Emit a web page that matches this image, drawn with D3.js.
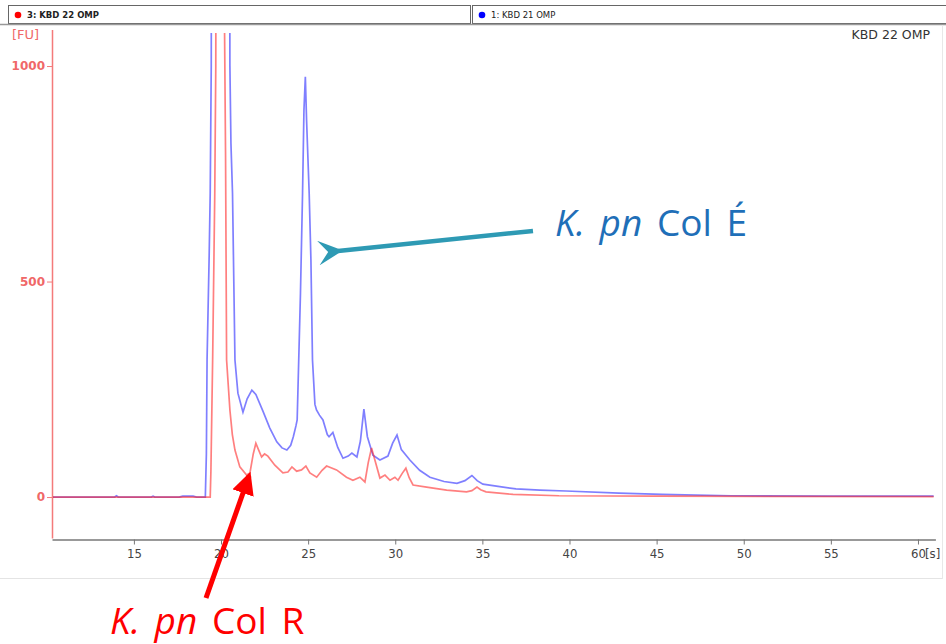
<!DOCTYPE html>
<html>
<head>
<meta charset="utf-8">
<script src="https://cdn.jsdelivr.net/npm/d3@7"></script>
<style>
  body { margin: 0; background: #fff; }
  svg { display: block; }
</style>
</head>
<body>
<svg role="trace" width="946" height="644"></svg>
<script>
(function(){

  // series, [time in s, fluorescence FU]
  var blueTrace = [
    [10.3, 0], [13.9, 0], [14.0, 3], [14.1, 0], [16.0, 0], [16.1, 2], [16.2, 0],
    [17.6, 0], [17.8, 2], [18.4, 2], [18.6, 0], [19.1, 0], [19.16, 100],
    [19.2, 320], [19.32, 560], [19.38, 705], [19.44, 1000], [19.5, 3000],
    [19.6, 6000], [20.3, 6000], [20.45, 3000], [20.51, 1000], [20.57, 820],
    [20.66, 705], [20.80, 318], [20.97, 241], [21.26, 197], [21.5, 228],
    [21.77, 248], [22.0, 238], [22.4, 200], [22.8, 160], [23.2, 128],
    [23.5, 114], [23.78, 109], [24.0, 120], [24.15, 140], [24.3, 165],
    [24.37, 179], [24.56, 473], [24.68, 705], [24.76, 898], [24.84, 975],
    [24.91, 875], [25.06, 705], [25.16, 550], [25.25, 318], [25.39, 215],
    [25.48, 202], [25.65, 190], [25.85, 179], [26.1, 145], [26.2, 140],
    [26.42, 150], [26.7, 115], [27.0, 90], [27.3, 95], [27.51, 102],
    [27.8, 93], [28.0, 130], [28.2, 204], [28.4, 140], [28.72, 97],
    [29.12, 86], [29.58, 95], [29.85, 125], [30.10, 144], [30.35, 110],
    [30.84, 86], [31.4, 62], [31.99, 46], [32.8, 36], [33.54, 32],
    [34.0, 38], [34.40, 50], [34.7, 38], [35.03, 30], [36.0, 24],
    [36.93, 19], [38.3, 16], [39.80, 14], [42.84, 9], [45.31, 6],
    [49.27, 3], [55, 2], [60.9, 2]
  ];

  var redTrace = [
    [10.3, 0], [19.38, 0], [19.42, 60], [19.52, 320], [19.64, 700],
    [19.7, 1000], [19.76, 2500], [19.85, 6000], [20.0, 6000], [20.14, 3000],
    [20.2, 1100], [20.26, 800], [20.32, 318], [20.51, 202], [20.65, 145],
    [20.80, 109], [21.08, 70], [21.47, 51], [21.66, 56], [21.85, 100],
    [22.00, 125], [22.15, 110], [22.33, 93], [22.5, 100], [22.69, 95],
    [23.09, 74], [23.55, 56], [23.84, 58], [24.07, 70], [24.34, 60],
    [24.62, 63], [24.87, 72], [25.10, 56], [25.49, 46], [25.8, 62],
    [26.06, 72], [26.63, 63], [27.20, 46], [27.57, 39], [27.97, 46],
    [28.26, 35], [28.45, 80], [28.64, 114], [28.83, 86], [29.12, 44],
    [29.41, 51], [29.70, 39], [29.98, 46], [30.16, 39], [30.4, 55],
    [30.61, 67], [30.8, 45], [31.02, 28], [31.80, 23], [32.95, 16],
    [34.09, 12], [34.4, 15], [34.69, 23], [34.9, 17], [35.21, 12],
    [36.76, 6], [39.40, 3], [45, 2], [60.9, 1]
  ];

  var timeTicks = [15, 20, 25, 30, 35, 40, 45, 50, 55, 60];
  var fuTicks = [0, 500, 1000];
  var legendItems = ['3: KBD 22 OMP', '1: KBD 21 OMP'];
  var sampleTitle = 'KBD 22 OMP';

  var svg = d3.select('[role="trace"]');

  // plot box
  var x = d3.scaleLinear().domain([10.3, 61]).range([52, 935.4]);
  var y = d3.scaleLinear().domain([-95, 1085]).range([538, 29.4]);

  // header legend boxes
  var legend = svg.append('g').attr('class', 'legend');
  legend.append('rect')
    .attr('x', 8.5).attr('y', 5.5).attr('width', 462).attr('height', 18)
    .attr('fill', '#fff').attr('stroke', '#666');
  legend.append('rect')
    .attr('x', 472.5).attr('y', 5.5).attr('width', 480).attr('height', 18)
    .attr('fill', '#fff').attr('stroke', '#666');
  svg.append('line')
    .attr('x1', 0).attr('x2', 946).attr('y1', 24.5).attr('y2', 24.5)
    .attr('stroke', '#999').attr('stroke-width', 1.5);
  legend.append('circle').attr('cx', 18).attr('cy', 15).attr('r', 3.3).attr('fill', '#f00');
  legend.append('circle').attr('cx', 482).attr('cy', 15).attr('r', 3.3).attr('fill', '#00f');
  legend.append('text')
    .attr('x', 27).attr('y', 18)
    .style('font', 'bold 8.5px "DejaVu Sans"').attr('fill', '#222')
    .text(legendItems[0]);
  legend.append('text')
    .attr('x', 491).attr('y', 18)
    .style('font', '8.5px "DejaVu Sans"').attr('fill', '#222')
    .text(legendItems[1]);

  // panel border lines
  svg.append('line')
    .attr('x1', 0).attr('x2', 943).attr('y1', 578.5).attr('y2', 578.5)
    .attr('stroke', '#e4e4e4');
  svg.append('line')
    .attr('x1', 942.5).attr('x2', 942.5).attr('y1', 25).attr('y2', 579)
    .attr('stroke', '#e8e8e8');

  svg.append('text')
    .attr('x', 12).attr('y', 39)
    .style('font', '13px "DejaVu Sans"').attr('fill', '#f06868')
    .text('[FU]');
  svg.append('text')
    .attr('x', 930).attr('y', 39).attr('text-anchor', 'end')
    .style('font', '12.5px "DejaVu Sans"').attr('fill', '#333')
    .text(sampleTitle);

  // axes
  var xAxis = svg.append('g')
    .attr('transform', 'translate(0,' + 539.5 + ')')
    .call(d3.axisBottom(x).tickValues(timeTicks).tickSize(5).tickSizeOuter(0).tickPadding(4));
  xAxis.select('.domain').attr('stroke', '#777').attr('stroke-width', 1.5);
  xAxis.selectAll('.tick line').attr('stroke', '#777');
  xAxis.selectAll('.tick text')
    .style('font', '13px "Liberation Sans Narrow", "DejaVu Sans Condensed", sans-serif')
    .attr('fill', '#444');
  xAxis.append('text')
    .attr('x', x(60) + 7).attr('y', 9).attr('dy', '0.71em')
    .attr('text-anchor', 'start')
    .style('font', '13px "Liberation Sans Narrow", "DejaVu Sans Condensed", sans-serif')
    .attr('fill', '#444')
    .text('[s]');

  var yAxis = svg.append('g')
    .attr('transform', 'translate(52,0)')
    .call(d3.axisLeft(y).tickValues(fuTicks).tickFormat(d3.format('d'))
      .tickSize(5).tickSizeOuter(0).tickPadding(2));
  yAxis.select('.domain').attr('stroke', '#f47a7a').attr('stroke-width', 1.5);
  yAxis.selectAll('.tick line').attr('stroke', '#f47a7a');
  yAxis.selectAll('.tick text')
    .style('font', 'bold 12px "DejaVu Sans"')
    .attr('fill', '#f06868');

  // traces
  svg.append('clipPath').attr('id', 'plotClip')
    .append('rect')
    .attr('x', 53).attr('y', 33).attr('width', 890).attr('height', 505);

  var line = d3.line()
    .x(function(d) { return x(d[0]); })
    .y(function(d) { return y(d[1]); });

  var traces = svg.append('g').attr('clip-path', 'url(#plotClip)');
  traces.append('path')
    .datum(blueTrace)
    .attr('d', line)
    .attr('fill', 'none')
    .attr('stroke', '#2a2aff')
    .attr('stroke-opacity', 0.6)
    .attr('stroke-width', 1.7);
  traces.append('path')
    .datum(redTrace)
    .attr('d', line)
    .attr('fill', 'none')
    .attr('stroke', '#ff2a2a')
    .attr('stroke-opacity', 0.6)
    .attr('stroke-width', 1.7);

  // annotations
  var defs = svg.append('defs');
  defs.append('marker')
    .attr('id', 'headTeal')
    .attr('viewBox', '0 0 10 10')
    .attr('refX', 2).attr('refY', 5)
    .attr('markerWidth', 5.5).attr('markerHeight', 5.5)
    .attr('orient', 'auto')
    .append('path')
    .attr('d', 'M10,0 L0,5 L10,10 L6,5 Z')
    .attr('fill', '#2e9ab4');
  defs.append('marker')
    .attr('id', 'headRed')
    .attr('viewBox', '0 0 10 10')
    .attr('refX', 8).attr('refY', 5)
    .attr('markerWidth', 4.5).attr('markerHeight', 4.5)
    .attr('orient', 'auto')
    .append('path')
    .attr('d', 'M0,0 L10,5 L0,10 Z')
    .attr('fill', '#f00');

  svg.append('line')
    .attr('x1', 533).attr('y1', 231)
    .attr('x2', 338).attr('y2', 251)
    .attr('stroke', '#2e9ab4').attr('stroke-width', 4.5)
    .attr('marker-end', 'url(#headTeal)');

  svg.append('line')
    .attr('x1', 206).attr('y1', 598)
    .attr('x2', 249).attr('y2', 476)
    .attr('stroke', '#f00').attr('stroke-width', 5)
    .attr('marker-end', 'url(#headRed)');

  var blueLabel = svg.append('text')
    .attr('x', 555).attr('y', 236)
    .style('font', '37px "Open Sans", Lato, sans-serif')
    .style('word-spacing', '5px')
    .attr('fill', '#1f6fb8');
  blueLabel.append('tspan').style('font-style', 'italic').text('K. pn');
  blueLabel.append('tspan').text(' Col É');

  var redLabel = svg.append('text')
    .attr('x', 110).attr('y', 634)
    .style('font', '37px "Open Sans", Lato, sans-serif')
    .style('word-spacing', '5px')
    .attr('fill', '#f00');
  redLabel.append('tspan').style('font-style', 'italic').text('K. pn');
  redLabel.append('tspan').text(' Col R');

})();
</script>
</body>
</html>
